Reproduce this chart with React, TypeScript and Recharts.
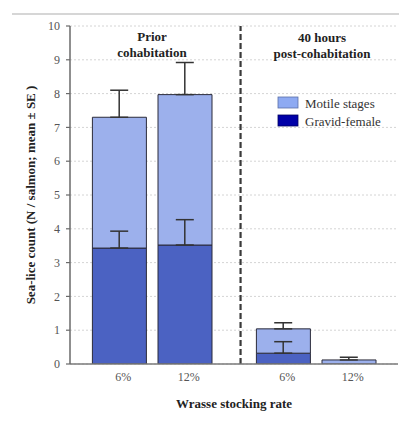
import React from "react";
import {
  ComposedChart,
  Bar,
  Scatter,
  ErrorBar,
  XAxis,
  YAxis,
  CartesianGrid,
  ReferenceLine,
} from "recharts";

// Categories (positions on a numeric axis so the two groups are separated)
const positions = [1.5, 3.5, 6.5, 8.5];
const tickLabels = ["6%", "12%", "6%", "12%"];

// Series values
const gravidFemale = [3.43, 3.52, 0.32, 0];
const motileTotal = [7.3, 7.97, 1.04, 0.12];
const totalSE = [0.8, 0.95, 0.18, 0.08];
const gravidSE = [0.5, 0.75, 0.34];

const yTicks = [0, 1, 2, 3, 4, 5, 6, 7, 8, 9, 10];

const barData = positions.map((p, i) => ({
  pos: p,
  gravid: gravidFemale[i],
  motile: +(motileTotal[i] - gravidFemale[i]).toFixed(3),
}));

const totalErrData = positions.map((p, i) => ({
  pos: p,
  y: motileTotal[i],
  err: [0, totalSE[i]],
}));

const gravidErrData = gravidSE.map((e, i) => ({
  pos: positions[i],
  y: gravidFemale[i],
  err: [0, e],
}));

const FONT = '"Liberation Serif", "Times New Roman", "DejaVu Serif", serif';
const LIGHT = "#9cb0ec";
const DARK = "#4b62c2";

const Empty = () => <g />;

export default function App() {
  return (
    <div style={{ position: "relative", width: 395, height: 405, fontFamily: FONT }}>
      <div
        style={{
          position: "absolute",
          left: 4,
          top: 5,
          width: 388,
          height: 2,
          background: "#d6d6d6",
        }}
      />
      <ComposedChart
        width={395}
        height={405}
        data={barData}
        margin={{ top: 18, right: 5, left: 12, bottom: 19 }}
      >
        <CartesianGrid
          horizontal={true}
          vertical={false}
          stroke="#d4d4d4"
          strokeDasharray="2 2"
        />
        <XAxis
          dataKey="pos"
          type="number"
          domain={[0, 10]}
          ticks={positions}
          tickFormatter={(v: number) => tickLabels[positions.indexOf(v)] ?? ""}
          tickLine={false}
          tickSize={0}
          tickMargin={8}
          height={30}
          axisLine={{ stroke: "#7a7a7a", strokeWidth: 1.5 }}
          tick={{ fill: "#555", fontSize: 12, fontFamily: FONT, dx: 4 }}
          allowDataOverflow
        />
        <YAxis
          type="number"
          domain={[0, 10]}
          ticks={yTicks}
          width={50}
          tickSize={4}
          tickMargin={6}
          axisLine={{ stroke: "#6a6a6a", strokeWidth: 1.5 }}
          tickLine={{ stroke: "#6a6a6a", strokeWidth: 1.2 }}
          tick={{ fill: "#555", fontSize: 12, fontFamily: FONT }}
          allowDataOverflow
        />
        <ReferenceLine
          x={5.2}
          stroke="#3a3a3a"
          strokeWidth={2.2}
          strokeDasharray="6 3"
        />
        <Bar
          dataKey="gravid"
          stackId="a"
          barSize={54}
          fill={DARK}
          stroke="#2b2b3a"
          strokeWidth={1}
          isAnimationActive={false}
        />
        <Bar
          dataKey="motile"
          stackId="a"
          barSize={54}
          fill={LIGHT}
          stroke="#2b2b3a"
          strokeWidth={1}
          isAnimationActive={false}
        />
        <Scatter
          data={totalErrData}
          dataKey="y"
          shape={Empty}
          isAnimationActive={false}
        >
          <ErrorBar
            dataKey="err"
            direction="y"
            width={9}
            stroke="#333"
            strokeWidth={1.5}
            isAnimationActive={false}
          />
        </Scatter>
        <Scatter
          data={gravidErrData}
          dataKey="y"
          shape={Empty}
          isAnimationActive={false}
        >
          <ErrorBar
            dataKey="err"
            direction="y"
            width={9}
            stroke="#333"
            strokeWidth={1.5}
            isAnimationActive={false}
          />
        </Scatter>
      </ComposedChart>
      <svg
        width={395}
        height={405}
        style={{ position: "absolute", left: 0, top: 0, pointerEvents: "none" }}
      >
        <g fontFamily={FONT}>
          <text x={144} y={28} textAnchor="middle" dominantBaseline="central" fontWeight="bold" fontSize={13} fill="#222">
            Prior
          </text>
          <text x={144} y={44} textAnchor="middle" dominantBaseline="central" fontWeight="bold" fontSize={13} fill="#222">
            cohabitation
          </text>
          <text x={314} y={29} textAnchor="middle" dominantBaseline="central" fontWeight="bold" fontSize={13} fill="#222">
            40 hours
          </text>
          <text x={314} y={45} textAnchor="middle" dominantBaseline="central" fontWeight="bold" fontSize={13} fill="#222">
            post-cohabitation
          </text>
          <rect x={270} y={89} width={20} height={11} fill="#8eaaf2" stroke="#5a6fa8" strokeWidth={0.8} />
          <rect x={270} y={107} width={20} height={11} fill="#0000a8" stroke="#000060" strokeWidth={0.8} />
          <text x={297} y={95} dominantBaseline="central" fontSize={13} fill="#333">
            Motile stages
          </text>
          <text x={297} y={113} dominantBaseline="central" fontSize={13} fill="#333">
            Gravid-female
          </text>
          <text
            x={22}
            y={187}
            transform="rotate(-90 22 187)"
            textAnchor="middle"
            dominantBaseline="central"
            fontWeight="bold"
            fontSize={13}
            fill="#222"
          >
            Sea-lice count (N / salmon; mean ± SE )
          </text>
          <text x={226} y={395} textAnchor="middle" dominantBaseline="central" fontWeight="bold" fontSize={13} fill="#222">
            Wrasse stocking rate
          </text>
        </g>
      </svg>
    </div>
  );
}
